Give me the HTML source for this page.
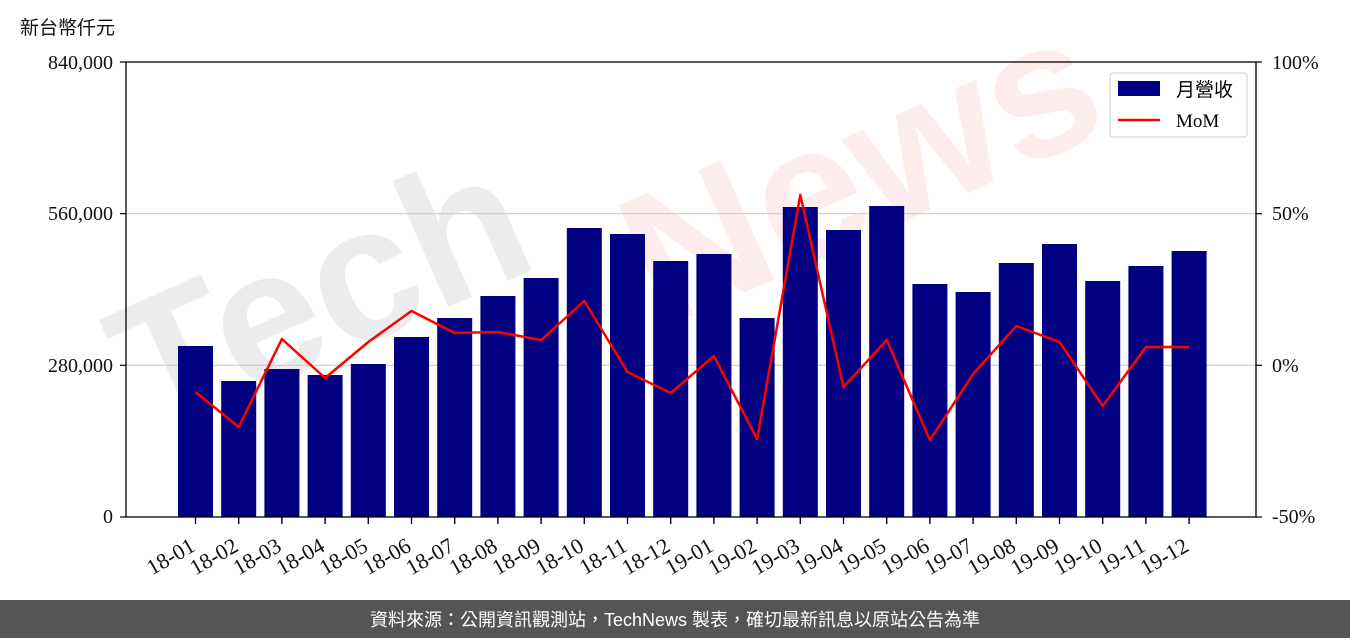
<!DOCTYPE html>
<html><head><meta charset="utf-8"><style>
body{margin:0;width:1350px;height:638px;background:#fff;overflow:hidden}
svg{display:block}
</style></head><body>
<svg width="1350" height="638" xmlns="http://www.w3.org/2000/svg" font-family="'Liberation Serif','Noto Serif CJK SC',serif">
<text x="20" y="34" font-size="19" font-family="'Liberation Sans','Noto Sans CJK TC',sans-serif" fill="#111">新台幣仟元</text>
<g font-family="'Liberation Sans',sans-serif" font-weight="bold" font-size="190">
<text x="150" y="440" transform="rotate(-24 150 440)" fill="#000" opacity="0.07">Tech</text>
<text x="660" y="330" transform="rotate(-24 660 330)" fill="#d00" opacity="0.07">News</text>
</g>
<g stroke="#ccc" stroke-width="1.2">
<line x1="126" y1="213.7" x2="1256" y2="213.7"/>
<line x1="126" y1="365.3" x2="1256" y2="365.3"/>
</g>
<g fill="#000080" id="bars"></g>
<polyline id="line" fill="none" stroke="#ff0000" stroke-width="2.5" stroke-linejoin="round"/>
<rect x="126" y="62" width="1130" height="455" fill="none" stroke="#000" stroke-width="1.3"/>
<g font-size="20" fill="#111">
<text x="113" y="69" text-anchor="end">840,000</text>
<text x="113" y="220" text-anchor="end">560,000</text>
<text x="113" y="372" text-anchor="end">280,000</text>
<text x="113" y="523" text-anchor="end">0</text>
<text x="1272" y="69">100%</text>
<text x="1272" y="220">50%</text>
<text x="1272" y="372">0%</text>
<text x="1272" y="523">-50%</text>
</g>
<g stroke="#000" stroke-width="1.2">
<line x1="120" y1="62" x2="126" y2="62"/><line x1="120" y1="213.7" x2="126" y2="213.7"/>
<line x1="120" y1="365.3" x2="126" y2="365.3"/><line x1="120" y1="517" x2="126" y2="517"/>
<line x1="1256" y1="62" x2="1262" y2="62"/><line x1="1256" y1="213.7" x2="1262" y2="213.7"/>
<line x1="1256" y1="365.3" x2="1262" y2="365.3"/><line x1="1256" y1="517" x2="1262" y2="517"/>
</g>
<g id="xt" font-size="22" fill="#111"></g>
<g id="ticks" stroke="#000" stroke-width="1.4"></g>
<rect x="1110" y="73" width="137" height="64" fill="#fff" stroke="#ccc" rx="3"/>
<rect x="1118" y="81" width="42" height="15" fill="#000080"/>
<text x="1176" y="96" font-size="19" font-family="'Liberation Sans','Noto Sans CJK TC',sans-serif">月營收</text>
<line x1="1118" y1="120" x2="1160" y2="120" stroke="#f00" stroke-width="2.5"/>
<text x="1176" y="127" font-size="19">MoM</text>
<rect x="0" y="600" width="1350" height="38" fill="#555"/>
<text x="675" y="626" text-anchor="middle" font-size="18" fill="#fff" font-family="'Liberation Sans','Noto Sans CJK TC',sans-serif">資料來源：公開資訊觀測站，TechNews 製表，確切最新訊息以原站公告為準</text>
</svg>
<script>
const tops=[346,381,369,375,364,337,318,296,278,228,234,261,254,318,207,230,206,284,292,263,244,281,266,251];
const mom=[392,427,339,378,342,311,333,332,340,301,372,393,356,439,195,387,340,440,374,326,342,406,347,347];
const labs=["18-01","18-02","18-03","18-04","18-05","18-06","18-07","18-08","18-09","18-10","18-11","18-12","19-01","19-02","19-03","19-04","19-05","19-06","19-07","19-08","19-09","19-10","19-11","19-12"];
const ns="http://www.w3.org/2000/svg";
let pts=[];
for(let i=0;i<24;i++){
 const cx=195.5+i*43.2;
 const r=document.createElementNS(ns,"rect");
 r.setAttribute("x",cx-17.5);r.setAttribute("y",tops[i]);r.setAttribute("width",35);r.setAttribute("height",517-tops[i]);
 document.getElementById("bars").appendChild(r);
 pts.push(cx+","+mom[i]);
 const t=document.createElementNS(ns,"text");
 const ax=cx+1, ay=550;
 t.setAttribute("x",ax);t.setAttribute("y",ay);t.setAttribute("text-anchor","end");
 t.setAttribute("transform","rotate(-30 "+ax+" "+ay+")");t.textContent=labs[i];
 document.getElementById("xt").appendChild(t);
 const l=document.createElementNS(ns,"line");
 l.setAttribute("x1",cx);l.setAttribute("x2",cx);l.setAttribute("y1",517);l.setAttribute("y2",524);
 document.getElementById("ticks").appendChild(l);
}
document.getElementById("line").setAttribute("points",pts.join(" "));
</script>
</body></html>
